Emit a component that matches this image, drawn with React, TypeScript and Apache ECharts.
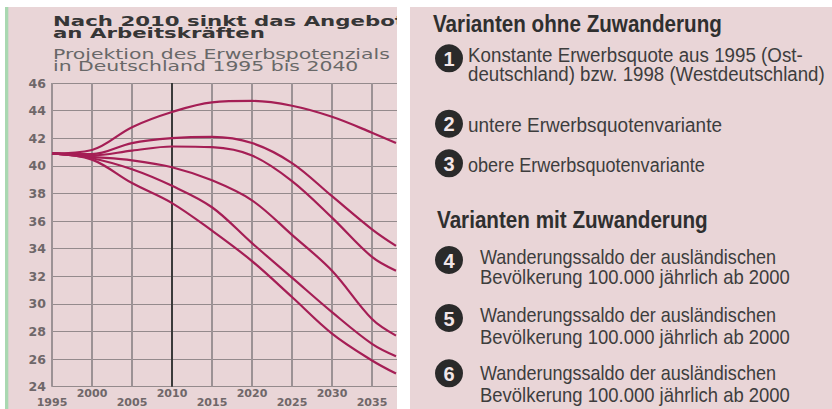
import { useEffect, useRef } from "react";
import * as echarts from "echarts";

// ---------- data ----------
const YEARS = [1995, 2000, 2005, 2010, 2015, 2020, 2025, 2030, 2035, 2038];
const CURVE_1 = [40.9, 41.15, 42.8, 43.9, 44.6, 44.7, 44.35, 43.55, 42.4, 41.65];
const CURVE_2 = [40.9, 40.85, 41.65, 42.0, 42.1, 41.65, 40.2, 37.8, 35.4, 34.2];
const CURVE_3 = [40.9, 40.75, 41.1, 41.4, 41.35, 40.75, 38.9, 36.25, 33.4, 32.4];
const CURVE_4 = [40.9, 40.65, 40.4, 39.9, 38.95, 37.5, 35.0, 32.4, 28.9, 27.7];
const CURVE_5 = [40.9, 40.55, 39.75, 38.55, 37.0, 34.4, 31.9, 29.4, 27.1, 26.2];
const CURVE_6 = [40.9, 40.45, 38.75, 37.3, 35.3, 33.1, 30.5, 27.85, 25.9, 24.95];
const CURVES = [CURVE_1, CURVE_2, CURVE_3, CURVE_4, CURVE_5, CURVE_6];
const CURVE_NAMES = ["Kurve 1", "Kurve 2", "Kurve 3", "Kurve 4", "Kurve 5", "Kurve 6"];

const X_MIN = 1995;
const X_MAX = 2040;
const X_STEP = 5;
const Y_MIN = 24;
const Y_MAX = 46;
const Y_STEP = 2;
const HIGHLIGHT_YEAR = 2010;

const TITLE_LINES = ["Nach 2010 sinkt das Angebot", "an Arbeitskräften"];
const SUBTITLE_LINES = ["Projektion des Erwerbspotenzials", "in Deutschland 1995 bis 2040"];

const LEGEND_HEADINGS = ["Varianten ohne Zuwanderung", "Varianten mit Zuwanderung"];
const LEGEND_NUMBERS = ["1", "2", "3", "4", "5", "6"];
const LEGEND_TEXTS = [
  ["Konstante Erwerbsquote aus 1995 (Ost-", "deutschland) bzw. 1998 (Westdeutschland)"],
  ["untere Erwerbsquotenvariante"],
  ["obere Erwerbsquotenvariante"],
  ["Wanderungssaldo der ausländischen", "Bevölkerung 100.000 jährlich ab 2000"],
  ["Wanderungssaldo der ausländischen", "Bevölkerung 100.000 jährlich ab 2000"],
  ["Wanderungssaldo der ausländischen", "Bevölkerung 100.000 jährlich ab 2000"],
];

// ---------- layout / style ----------
const W = 832;
const H = 409;
const PANEL = "#e9d5d7";
const LINE_COLOR = "#a51e55";
const TITLE_FONT = "DejaVu Sans";
const RIGHT_FONT = "Liberation Sans";

const HEADING_LAYOUT = [
  { x: 433, y: 24, w: 289 },
  { x: 437, y: 219.5, w: 271 },
];
const ITEM_LAYOUT = [
  { cy: 58.3, tx: 468, ly: [55, 73.5], lw: [335, 357] },
  { cy: 123.7, tx: 468, ly: [124.5], lw: [254] },
  { cy: 163.3, tx: 468, ly: [164.5], lw: [237] },
  { cy: 260, tx: 480, ly: [256, 277], lw: [296, 310] },
  { cy: 318, tx: 480, ly: [314.5, 336.5], lw: [296, 310] },
  { cy: 373.3, tx: 480, ly: [372, 394.5], lw: [296, 310] },
];

let measureCtx: CanvasRenderingContext2D | null = null;
function measure(text: string, font: string): number {
  if (!measureCtx) measureCtx = document.createElement("canvas").getContext("2d");
  if (!measureCtx) return text.length * 8;
  measureCtx.font = font;
  return measureCtx.measureText(text).width;
}

function txt(
  text: string,
  x: number,
  y: number,
  opts: { family: string; size: number; weight?: string; fill: string; scaleX?: number; align?: string; z?: number }
) {
  return {
    type: "text",
    x,
    y,
    scaleX: opts.scaleX ?? 1,
    z: opts.z ?? 101,
    silent: true,
    style: {
      text,
      fontFamily: opts.family,
      fontSize: opts.size,
      fontWeight: opts.weight ?? "normal",
      fill: opts.fill,
      align: opts.align ?? "left",
      verticalAlign: "middle",
      textAlign: opts.align ?? "left",
      textVerticalAlign: "middle",
    },
  };
}

function buildGraphics() {
  const els: any[] = [];
  // title (its last letter is clipped by the white gap, as in the original)
  const tFont = `bold 14px "${TITLE_FONT}"`;
  const tScale = 342 / measure(TITLE_LINES[0].slice(0, -1), tFont);
  const TITLE_Y = [20.5, 33];
  TITLE_LINES.forEach((l, i) =>
    els.push(txt(l, 53, TITLE_Y[i], { family: TITLE_FONT, size: 14, weight: "bold", fill: "#363636", scaleX: tScale, z: 50 }))
  );
  const sFont = `13.5px "${TITLE_FONT}"`;
  const sScale = 337 / measure(SUBTITLE_LINES[0], sFont);
  const SUB_Y = [54, 66.5];
  SUBTITLE_LINES.forEach((l, i) =>
    els.push(txt(l, 53, SUB_Y[i], { family: TITLE_FONT, size: 13.5, fill: "#686868", scaleX: sScale, z: 50 }))
  );

  // frame pieces
  els.push({ type: "rect", z: 100, silent: true, shape: { x: 0, y: 0, width: W, height: 7 }, style: { fill: "#ffffff" } });
  els.push({ type: "rect", z: 100, silent: true, shape: { x: 0, y: 0, width: 5, height: H }, style: { fill: "#ffffff" } });
  els.push({ type: "rect", z: 100, silent: true, shape: { x: 5, y: 7, width: 3.3, height: H - 7 }, style: { fill: "#a9d8b1" } });
  els.push({ type: "rect", z: 100, silent: true, shape: { x: 397, y: 0, width: 13, height: H }, style: { fill: "#ffffff" } });
  els.push({ type: "rect", z: 100, silent: true, shape: { x: 410, y: 7, width: W - 410, height: H - 7 }, style: { fill: PANEL } });

  // right panel
  const hSize = 24;
  const hFont = `bold ${hSize}px "${RIGHT_FONT}"`;
  LEGEND_HEADINGS.forEach((h, i) => {
    const L = HEADING_LAYOUT[i];
    const sc = L.w / measure(h, hFont);
    els.push(txt(h, L.x, L.y, { family: RIGHT_FONT, size: hSize, weight: "bold", fill: "#2f2f2f", scaleX: sc }));
  });
  const bSize = 21;
  const bFont = `${bSize}px "${RIGHT_FONT}"`;
  LEGEND_TEXTS.forEach((lines, i) => {
    const L = ITEM_LAYOUT[i];
    els.push({ type: "circle", z: 101, silent: true, shape: { cx: 449, cy: L.cy, r: 14 }, style: { fill: "#2a2a2a" } });
    els.push(txt(LEGEND_NUMBERS[i], 449, L.cy + 0.5, { family: RIGHT_FONT, size: 20, weight: "bold", fill: "#f2e6e8", align: "center", z: 102 }));
    lines.forEach((line, j) => {
      const sc = L.lw[j] / measure(line, bFont);
      els.push(txt(line, L.tx, L.ly[j], { family: RIGHT_FONT, size: bSize, fill: "#3d3d3d", scaleX: sc }));
    });
  });
  return els;
}

export default function App() {
  const ref = useRef<HTMLDivElement>(null);
  useEffect(() => {
    if (!ref.current) return;
    const chart = echarts.init(ref.current, null, { renderer: "svg" });
    const series: any[] = CURVES.map((vals, idx) => ({
      name: CURVE_NAMES[idx],
      type: "line",
      data: YEARS.map((yr, i) => [yr, vals[i]]),
      smooth: 0.35,
      symbol: "none",
      silent: true,
      z: 4,
      lineStyle: { color: LINE_COLOR, width: 2.2 },
      ...(idx === 0
        ? {
            markLine: {
              silent: true,
              symbol: ["none", "none"],
              label: { show: false },
              z: 3,
              lineStyle: { color: "#3a3a3a", width: 2, type: "solid" },
              data: [{ xAxis: HIGHLIGHT_YEAR }],
            },
          }
        : {}),
    }));
    const option: any = {
      animation: false,
      backgroundColor: PANEL,
      grid: { left: 52, top: 83, width: 360, height: 303.7, containLabel: false, outerBoundsMode: "none" },
      xAxis: {
        type: "value",
        min: X_MIN,
        max: X_MAX,
        interval: X_STEP,
        axisLine: { show: false },
        axisTick: { show: false },
        splitLine: { show: true, lineStyle: { color: "#9c9295", width: 2 } },
        axisLabel: {
          showMinLabel: true,
          showMaxLabel: true,
          margin: 2,
          fontFamily: TITLE_FONT,
          fontWeight: "bold",
          fontSize: 11,
          lineHeight: 9.5,
          color: "#6f6769",
          formatter: (v: number) => (v % 10 === 0 ? `${v}\n ` : ` \n${v}`),
        },
      },
      yAxis: {
        type: "value",
        min: Y_MIN,
        max: Y_MAX,
        interval: Y_STEP,
        axisLine: { show: false },
        axisTick: { show: false },
        splitLine: { show: true, lineStyle: { color: "#948a8c", width: 1 } },
        axisLabel: {
          margin: 6,
          fontFamily: TITLE_FONT,
          fontWeight: "bold",
          fontSize: 12.5,
          color: "#6f6769",
        },
      },
      series,
      graphic: { elements: buildGraphics() },
    };
    chart.setOption(option);
    return () => chart.dispose();
  }, []);
  return <div ref={ref} style={{ position: "fixed", left: 0, top: 0, width: W, height: H }} />;
}
